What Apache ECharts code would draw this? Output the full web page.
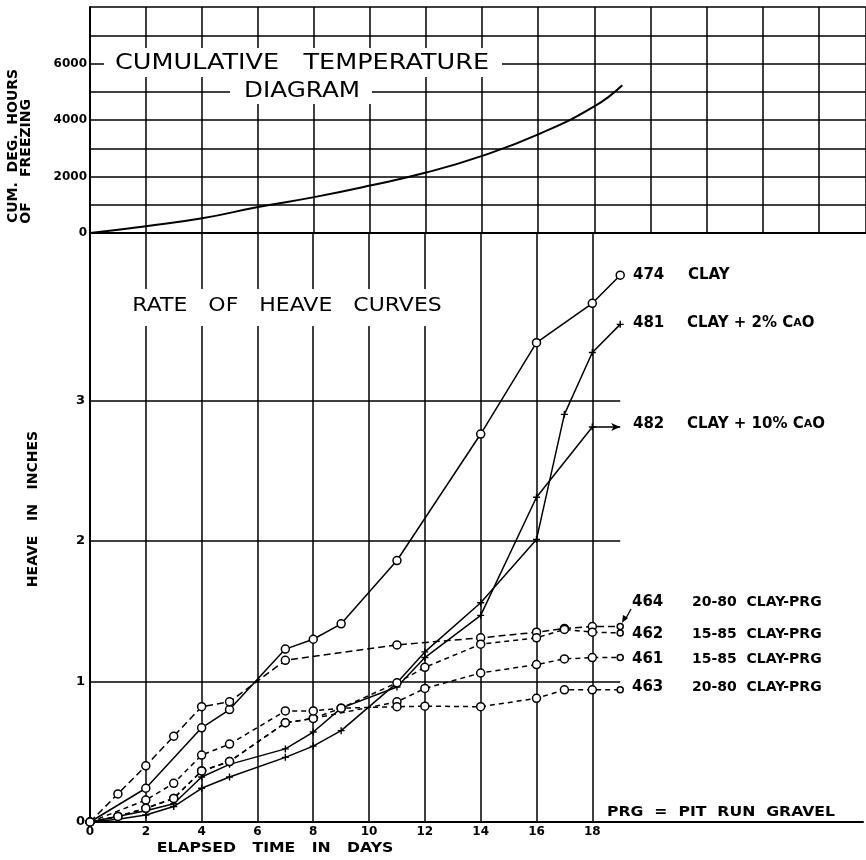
<!DOCTYPE html>
<html>
<head>
<meta charset="utf-8">
<script src="https://cdn.jsdelivr.net/npm/echarts@6/dist/echarts.min.js"></script>
<style>
  html, body { margin: 0; padding: 0; background: #fff; }
  #chart { width: 866px; height: 860px; }
</style>
</head>
<body>
<div id="chart"></div>
<script>
// cumulative temperature diagram (top)
const tempDays = [0, 2, 4, 6, 8, 10, 12, 14, 16, 18, 19];
const tempDegHours = [0, 240, 520, 920, 1270, 1680, 2140, 2730, 3490, 4480, 5230];

// rate of heave curves (bottom), heave in inches
const days474 = [0, 2, 4, 5, 7, 8, 9, 11, 14, 16, 18, 19];
const heave474 = [0, 0.24, 0.67, 0.80, 1.23, 1.30, 1.41, 1.86, 2.76, 3.41, 3.69, 3.89];

const days481 = [0, 1, 2, 3, 4, 5, 7, 8, 9, 11, 12, 14, 16, 17, 18, 19];
const heave481 = [0, 0.02, 0.05, 0.11, 0.24, 0.32, 0.46, 0.54, 0.65, 0.99, 1.21, 1.56, 2.01, 2.90, 3.34, 3.54];

const days482 = [0, 2, 3, 4, 5, 7, 8, 9, 11, 12, 14, 16, 18, 19];
const heave482 = [0, 0.08, 0.13, 0.32, 0.41, 0.52, 0.64, 0.81, 0.96, 1.17, 1.47, 2.31, 2.81, 2.81];

const days464 = [0, 1, 2, 3, 4, 5, 7, 11, 14, 16, 17, 18, 19];
const heave464 = [0, 0.20, 0.40, 0.61, 0.82, 0.855, 1.15, 1.26, 1.31, 1.35, 1.377, 1.39, 1.39];

const days462 = [0, 1, 2, 3, 4, 5, 7, 8, 9, 11, 12, 14, 16, 17, 18, 19];
const heave462 = [0, 0.04, 0.097, 0.168, 0.363, 0.43, 0.706, 0.737, 0.81, 0.99, 1.10, 1.265, 1.31, 1.37, 1.35, 1.345];

const days461 = [0, 1, 2, 3, 4, 5, 7, 8, 11, 12, 14, 16, 17, 18, 19];
const heave461 = [0, 0.04, 0.097, 0.168, 0.363, 0.43, 0.706, 0.737, 0.855, 0.95, 1.06, 1.12, 1.16, 1.17, 1.17];

const days463 = [0, 2, 3, 4, 5, 7, 8, 9, 11, 12, 14, 16, 17, 18, 19];
const heave463 = [0, 0.156, 0.275, 0.476, 0.554, 0.79, 0.79, 0.81, 0.82, 0.824, 0.82, 0.88, 0.94, 0.94, 0.94];

const dayTicks = [2, 4, 6, 8, 10, 12, 14, 16, 18];
const heaveTicks = [1, 2, 3];
const heaveLineEnd = 19;

const FONT = 'DejaVu Sans';
const plusPath = 'path://M4,0 L6,0 L6,4 L10,4 L10,6 L6,6 L6,10 L4,10 L4,6 L0,6 L0,4 L4,4 Z';

const pairs = (xs, ys) => xs.map((x, i) => [x, ys[i]]);

// lines with hollow circles; the day 19 end point may be drawn smaller
const circleSeries = (name, xs, ys, dash, endSize) => ({
  name,
  type: 'line',
  xAxisIndex: 1,
  yAxisIndex: 1,
  z: 5,
  data: pairs(xs, ys).map((p, i) =>
    i === xs.length - 1 ? { value: p, symbolSize: endSize } : p
  ),
  symbol: 'circle',
  symbolSize: 8,
  showSymbol: true,
  lineStyle: { color: '#000', width: 1.5, type: dash },
  itemStyle: { color: '#fff', borderColor: '#000', borderWidth: 1.5 },
  animation: false,
});

const plusSeries = (name, xs, ys, arrowEnd) => ({
  name,
  type: 'line',
  xAxisIndex: 1,
  yAxisIndex: 1,
  z: 5,
  data: pairs(xs, ys).map((p, i) =>
    arrowEnd && i === xs.length - 1
      ? { value: p, symbol: 'arrow', symbolSize: [6, 9], symbolRotate: -90 }
      : p
  ),
  symbol: plusPath,
  symbolSize: 7,
  showSymbol: true,
  lineStyle: { color: '#000', width: 1.5 },
  itemStyle: { color: '#000' },
  animation: false,
});

const txt = (text, x, y, size, opts = {}) => ({
  type: 'text',
  x,
  y,
  rotation: opts.rotation || 0,
  scaleX: opts.sx || 1,
  z: 100,
  style: {
    text,
    fill: '#000',
    fontFamily: FONT,
    fontSize: size,
    fontWeight: opts.weight || 'normal',
    align: opts.align || 'left',
    verticalAlign: 'middle',
    rich: opts.rich,
  },
});

const whiteBox = (x, y, w, h) => ({
  type: 'rect',
  z: 99,
  shape: { x, y, width: w, height: h },
  style: { fill: '#fff' },
});

const smallA = { a: { fontFamily: FONT, fontSize: 11, fontWeight: 'bold', fill: '#000' } };

const chart = echarts.init(document.getElementById('chart'), null, { renderer: 'canvas' });

chart.setOption({
  backgroundColor: '#fff',
  animation: false,
  grid: [
    { left: 90, right: 0, top: 7, height: 226 },
    { left: 90, right: 0, top: 233, height: 589 },
  ],
  xAxis: [
    {
      gridIndex: 0, type: 'value', min: 0, max: 27.7, interval: 2,
      axisLine: { show: true, lineStyle: { color: '#000', width: 2 } },
      axisTick: { show: false }, axisLabel: { show: false },
      splitLine: { show: true, lineStyle: { color: '#000', width: 1.5 } },
    },
    {
      gridIndex: 1, type: 'value', min: 0, max: 27.7, interval: 2,
      axisLine: { show: true, lineStyle: { color: '#000', width: 2 } },
      axisTick: { show: false },
      axisLabel: {
        show: true, margin: 4, color: '#000', fontFamily: FONT, fontSize: 12, fontWeight: 'bold',
        formatter: (v) => (v <= 18 && v % 2 === 0 ? String(v) : ''),
      },
      splitLine: { show: false },
    },
  ],
  yAxis: [
    {
      gridIndex: 0, type: 'value', min: 0, max: 8000, interval: 1000,
      axisLine: { show: true, lineStyle: { color: '#000', width: 2 } },
      axisTick: { show: false },
      axisLabel: {
        show: true, margin: 3, color: '#000', fontFamily: FONT, fontSize: 12, fontWeight: 'bold',
        formatter: (v) => (v % 2000 === 0 && v < 8000 ? String(v) : ''),
      },
      splitLine: { show: true, lineStyle: { color: '#000', width: 1.5 } },
    },
    {
      gridIndex: 1, type: 'value', min: 0, max: 4.19, interval: 1,
      axisLine: { show: true, lineStyle: { color: '#000', width: 2 } },
      axisTick: { show: false },
      axisLabel: {
        show: true, margin: 5, color: '#000', fontFamily: FONT, fontSize: 13, fontWeight: 'bold',
        formatter: (v) => (Number.isInteger(v) && v <= 3 ? String(v) : ''),
      },
      splitLine: { show: false },
    },
  ],
  series: [
    {
      name: 'temperature',
      type: 'line',
      xAxisIndex: 0,
      yAxisIndex: 0,
      data: pairs(tempDays, tempDegHours),
      smooth: 0.5,
      showSymbol: false,
      lineStyle: { color: '#000', width: 2 },
      z: 5,
    },
    {
      name: 'grid',
      type: 'line',
      xAxisIndex: 1,
      yAxisIndex: 1,
      data: [],
      z: 1,
      markLine: {
        silent: true,
        symbol: 'none',
        label: { show: false },
        lineStyle: { color: '#000', width: 1.5, type: 'solid' },
        data: [
          ...dayTicks.map((d) => ({ xAxis: d })),
          ...heaveTicks.map((h) => [{ coord: [0, h] }, { coord: [heaveLineEnd, h] }]),
        ],
      },
    },
    circleSeries('474', days474, heave474, 'solid', 8),
    plusSeries('481', days481, heave481, false),
    plusSeries('482', days482, heave482, true),
    circleSeries('464', days464, heave464, [7, 4], 6),
    circleSeries('462', days462, heave462, [5, 4], 6),
    circleSeries('461', days461, heave461, [5, 4], 6),
    circleSeries('463', days463, heave463, [5, 4], 6),
  ],
  graphic: [
    // top diagram title
    whiteBox(104, 48, 398, 29),
    whiteBox(230, 77, 142, 27),
    txt('CUMULATIVE   TEMPERATURE', 302, 63, 22, { align: 'center', sx: 1.16 }),
    txt('DIAGRAM', 302, 91, 22, { align: 'center', sx: 1.12 }),
    // bottom chart title
    whiteBox(108, 289, 360, 37),
    txt('RATE   OF   HEAVE   CURVES', 287, 306, 20, { align: 'center', sx: 1.1 }),
    // axis names
    txt('CUM.  DEG.  HOURS', 13, 146, 14, { align: 'center', weight: 'bold', rotation: Math.PI / 2 }),
    txt('OF', 26, 213, 14, { align: 'center', weight: 'bold', rotation: Math.PI / 2 }),
    txt('FREEZING', 26, 138, 14, { align: 'center', weight: 'bold', rotation: Math.PI / 2 }),
    txt('HEAVE   IN   INCHES', 33, 509, 14, { align: 'center', weight: 'bold', rotation: Math.PI / 2 }),
    txt('ELAPSED   TIME   IN   DAYS', 275, 848, 14, { align: 'center', weight: 'bold', sx: 1.12 }),
    // curve labels
    txt('474', 633, 275, 15, { weight: 'bold' }),
    txt('CLAY', 688, 275, 15, { weight: 'bold' }),
    txt('481', 633, 323, 15, { weight: 'bold' }),
    txt('CLAY + 2% C{a|A}O', 687, 323, 15, { weight: 'bold', rich: smallA }),
    txt('482', 633, 424, 15, { weight: 'bold' }),
    txt('CLAY + 10% C{a|A}O', 687, 424, 15, { weight: 'bold', rich: smallA }),
    txt('464', 632, 602, 15, { weight: 'bold' }),
    txt('20-80  CLAY-PRG', 692, 602, 14, { weight: 'bold' }),
    txt('462', 632, 634, 15, { weight: 'bold' }),
    txt('15-85  CLAY-PRG', 692, 634, 14, { weight: 'bold' }),
    txt('461', 632, 659, 15, { weight: 'bold' }),
    txt('15-85  CLAY-PRG', 692, 659, 14, { weight: 'bold' }),
    txt('463', 632, 687, 15, { weight: 'bold' }),
    txt('20-80  CLAY-PRG', 692, 687, 14, { weight: 'bold' }),
    txt('PRG  =  PIT  RUN  GRAVEL', 607, 812, 14, { weight: 'bold', sx: 1.12 }),
    // leader from "464" down to its curve end
    {
      type: 'polyline', z: 100,
      shape: { points: [[631, 609], [625, 620]] },
      style: { stroke: '#000', lineWidth: 1.3, fill: null },
    },
    {
      type: 'polygon', z: 100,
      shape: { points: [[622, 623], [623, 615], [628, 618]] },
      style: { fill: '#000' },
    },
  ],
});
</script>
</body>
</html>
